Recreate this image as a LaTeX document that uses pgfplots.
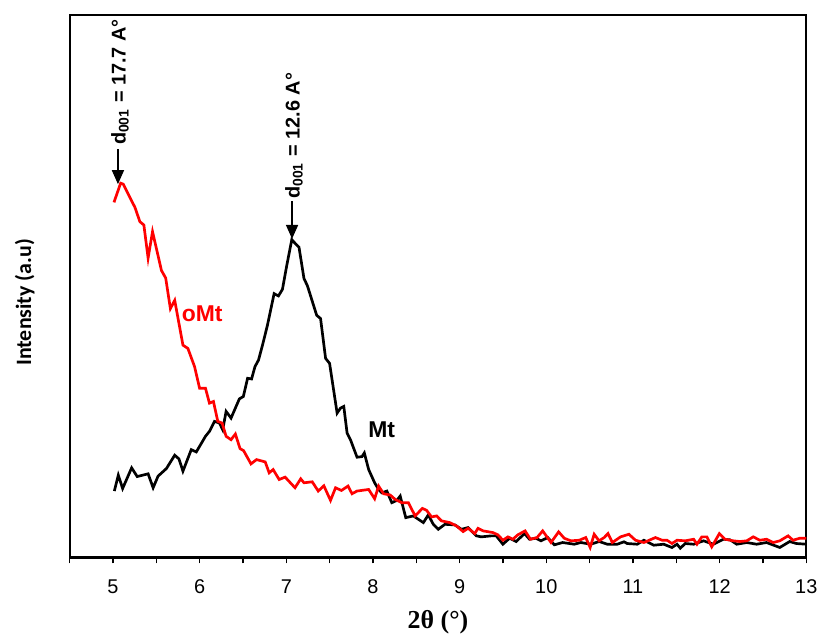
\documentclass[border=0pt]{standalone}
\usepackage{pgfplots}
\pgfplotsset{compat=1.18}
\usepackage{fontspec}
\setmainfont{Liberation Sans}
\newfontfamily\timesfont{Liberation Serif}
\newfontfamily\calfont{Carlito}
\usetikzlibrary{arrows.meta}

\begin{document}
\begin{tikzpicture}
\begin{axis}[
  scale only axis, width=370pt, height=272.5pt,
  xmin=4.5, xmax=13, ymin=0, ymax=545,
  clip=false,
  axis line style={line width=1.1pt},
  xtick={5,...,13}, minor xtick={4.5,5.5,...,12.5},
  xtick pos=bottom, tick align=outside, ytick=\empty,
  major tick length=3pt, minor tick length=3pt,
  every tick/.style={black, line width=0.8pt},
  /pgf/number format/assume math mode=true,
  xticklabel style={font=\fontsize{10}{11}\selectfont, yshift=-4.5pt},
  xlabel={\timesfont\bfseries 2θ (°)},
  ylabel={\calfont\bfseries Intensity (a.u)},
  xlabel style={font=\fontsize{13}{15}\selectfont, at={(axis description cs:0.5,-0.12)}, anchor=center},
  ylabel style={font=\fontsize{11}{13}\selectfont, at={(axis description cs:-0.061,0.47)}, anchor=center},
]
% Mt
\addplot[black, line width=1.35pt] coordinates {
(5.015,66.7)(5.061,82.7)(5.111,69.3)(5.215,90)(5.279,81.3)(5.405,84)(5.463,70)(5.520,81.7)
(5.616,89.3)(5.712,102.7)(5.761,99)(5.807,86.7)(5.903,108.3)(5.961,106)(6.067,121.7)(6.113,126.7)
(6.171,136.7)(6.228,135)(6.266,128.3)(6.305,146.7)(6.362,140)(6.458,159.3)(6.504,161.7)(6.553,180)
(6.599,179.3)(6.638,191.7)(6.679,198.3)(6.725,213.3)(6.782,233.3)(6.859,265)(6.909,262.7)(6.955,269.3)
(7.005,293.3)(7.063,319.3)(7.089,316.7)(7.146,311.7)(7.204,280)(7.242,273.3)(7.350,243.3)(7.395,240)
(7.453,200)(7.499,195)(7.586,145)(7.625,150)(7.663,151.7)(7.701,125)(7.740,118.3)(7.816,100.7)
(7.873,101.3)(7.900,105)(7.950,88.3)(8.019,75)(8.065,68.3)(8.102,65)(8.160,66.7)(8.217,55)
(8.275,57.3)(8.314,61.7)(8.378,40)(8.466,41.7)(8.581,35)(8.638,42.7)(8.696,33.3)(8.753,28.3)
(8.830,33.3)(8.945,32.7)(9.021,28.3)(9.098,30)(9.193,21.7)(9.250,20.7)(9.365,21.7)(9.422,21.7)
(9.499,13.3)(9.576,19.3)(9.652,16)(9.748,24)(9.806,18.3)(9.881,19.3)(9.939,16.7)(10.016,20)
(10.093,12.7)(10.188,15)(10.322,13.3)(10.398,15)(10.513,13.3)(10.609,16)(10.704,13.3)(10.819,13.3)
(10.896,15.7)(10.934,14)(11.049,13.3)(11.126,17.3)(11.240,12.3)(11.355,13.3)(11.450,10)(11.508,13.3)
(11.546,9.3)(11.603,14)(11.700,13.3)(11.814,16.7)(11.929,13.3)(12.044,18.3)(12.120,17.7)(12.197,13.3)
(12.312,15)(12.427,13.3)(12.541,15)(12.694,10)(12.808,16)(12.885,14)(13.000,13.3)
};
% oMt
\addplot[red, line width=1.35pt] coordinates {
(5.011,356.7)(5.088,376)(5.118,375)(5.195,361.7)(5.253,351.7)(5.310,337.3)(5.356,334)(5.405,300.7)
(5.456,327.3)(5.559,288.3)(5.608,280.7)(5.662,250)(5.712,258.3)(5.807,213.3)(5.864,210)(5.941,191.7)
(5.999,170)(6.067,170)(6.113,155)(6.159,156.7)(6.209,136.7)(6.259,135)(6.305,121.7)(6.362,118.3)
(6.412,124)(6.466,109.3)(6.507,107.3)(6.592,94)(6.656,98.3)(6.756,96)(6.802,85)(6.848,88.3)
(6.917,78.3)(6.986,80.7)(7.100,70)(7.166,79)(7.204,75)(7.299,76)(7.368,66.7)(7.433,72)
(7.510,57.3)(7.568,70)(7.636,67.3)(7.712,71.7)(7.758,64)(7.816,66.7)(7.950,68.3)(8.019,59)
(8.065,71.7)(8.122,64)(8.199,62.7)(8.256,58.3)(8.332,55)(8.409,55)(8.486,41.7)(8.570,49.3)
(8.619,47.3)(8.676,40.7)(8.734,41.7)(8.791,36.7)(8.888,35)(8.963,31.7)(9.040,26)(9.098,29.3)
(9.174,24)(9.212,29.3)(9.270,26.7)(9.384,25)(9.442,22.7)(9.499,17.3)(9.557,20.7)(9.614,18.3)
(9.671,22.7)(9.755,26.7)(9.817,18.3)(9.893,20)(9.958,26.7)(10.054,15)(10.142,25.7)(10.207,19.3)
(10.284,16.7)(10.380,17.3)(10.455,20)(10.506,10)(10.552,23.3)(10.609,16.7)(10.667,20)(10.712,24)
(10.762,15)(10.857,20.7)(10.953,23.3)(11.029,17.3)(11.126,15)(11.259,20)(11.336,17.3)(11.393,17.3)
(11.450,14)(11.508,17.3)(11.603,16.7)(11.700,18.3)(11.738,13.3)(11.795,20.7)(11.852,20.7)(11.909,10.7)
(11.997,24)(12.062,18.3)(12.158,16.7)(12.234,16)(12.312,16.7)(12.388,20.7)(12.464,17.3)(12.541,18.3)
(12.618,15)(12.694,16.7)(12.790,21.7)(12.847,17.3)(12.924,19.3)(13.000,19.3)
};
\node[red, font=\bfseries\fontsize{11.5}{13}\selectfont] at (axis cs:6.03,245) {oMt};
\node[font=\bfseries\fontsize{11.5}{13}\selectfont] at (axis cs:8.10,128) {Mt};
\draw[line width=0.8pt, -{Triangle[length=7pt,width=6pt]}] (axis cs:5.057,410) -- (axis cs:5.057,375);
\node[rotate=90, anchor=west, inner sep=0pt, font=\bfseries\fontsize{10}{12}\selectfont] at (axis cs:5.08,414) {d\textsubscript{001} = 17.7 A°};
\draw[line width=0.8pt, -{Triangle[length=7pt,width=6pt]}] (axis cs:7.066,358) -- (axis cs:7.066,320);
\node[rotate=90, anchor=west, inner sep=0pt, font=\bfseries\fontsize{10}{12}\selectfont] at (axis cs:7.089,360) {d\textsubscript{001} = 12.6 A°};
\end{axis}
\path (-35pt,-39.5pt) rectangle (377pt,280pt);
\end{tikzpicture}
\end{document}
